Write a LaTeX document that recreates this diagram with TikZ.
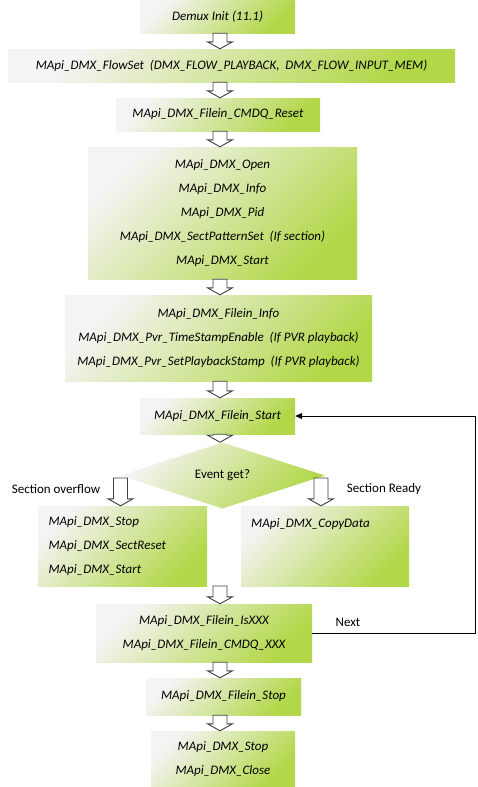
\documentclass[tikz,border=0pt]{standalone}
\usepackage{fontspec}
\setmainfont{Carlito}
\usetikzlibrary{shapes.geometric,arrows.meta,calc}
\definecolor{gl}{RGB}{244,244,244}
\definecolor{gg}{RGB}{178,215,72}
\definecolor{arr}{RGB}{64,64,64}
\newcommand{\blkarrow}[2]{\draw[barrow] let \p1=(#1), \p2=(#2) in
  (\x1-7pt,\y1) -- (\x1-7pt,\y2+7pt) -- (\x1-12.5pt,\y2+7pt) -- (\x1,\y2) --
  (\x1+12.5pt,\y2+7pt) -- (\x1+7pt,\y2+7pt) -- (\x1+7pt,\y1) -- cycle;}
\begin{document}
\begin{tikzpicture}[x=1pt,y=-1pt,
  box/.style={rectangle, inner sep=0pt, top color=gl, bottom color=gg, shading angle=45,
    font=\fontsize{13}{24}\selectfont\itshape, align=center},
  barrow/.style={draw=arr, fill=white, line width=0.9pt, line join=miter},
  lbl/.style={font=\fontsize{13}{15}\selectfont, inner sep=0pt},
  itxt/.style={font=\fontsize{13}{15}\selectfont\itshape, inner sep=0pt}]
\useasboundingbox (0,0) rectangle (478,787);
\coordinate (ax) at (220,0);
% boxes
\node[box, minimum width=155pt, minimum height=33pt] (b1) at (217.5,16.5) {Demux Init (11.1)};
\node[box, minimum width=447pt, minimum height=33pt] (b2) at (231.5,65.5)
  {MApi\_DMX\_FlowSet\ \ (DMX\_FLOW\_PLAYBACK,\ \ DMX\_FLOW\_INPUT\_MEM)};
\node[box, minimum width=204pt, minimum height=33pt] (b3) at (218,114.5) {MApi\_DMX\_Filein\_CMDQ\_Reset};
\node[box, minimum width=269pt, minimum height=132pt] (b4) at (222.5,213)
  {MApi\_DMX\_Open\\MApi\_DMX\_Info\\MApi\_DMX\_Pid\\MApi\_DMX\_SectPatternSet\ \ (If section)\\MApi\_DMX\_Start};
\node[box, minimum width=307pt, minimum height=86pt] (b5) at (218.5,338)
  {MApi\_DMX\_Filein\_Info\\MApi\_DMX\_Pvr\_TimeStampEnable\ \ (If PVR playback)\\MApi\_DMX\_Pvr\_SetPlaybackStamp\ \ (If PVR playback)};
\node[box, minimum width=155pt, minimum height=36pt] (b6) at (217.5,416) {MApi\_DMX\_Filein\_Start};
\node[diamond, inner sep=0pt, minimum width=205pt, minimum height=47pt, top color=gl, bottom color=gg,
  shading angle=45, font=\fontsize{13}{15}\selectfont] (d) at (222.5,475.5) {Event get?};
\node[box, align=left, text width=148pt, minimum width=169pt, minimum height=80pt] (b7) at (122.5,546)
  {MApi\_DMX\_Stop\\MApi\_DMX\_SectReset\\MApi\_DMX\_Start};
\node[box, minimum width=168pt, minimum height=80pt] (b8) at (325,546) {};
\node[itxt, anchor=west] (t8) at (251,524) {MApi\_DMX\_CopyData};
\node[box, minimum width=216pt, minimum height=58pt] (b9) at (204,633)
  {MApi\_DMX\_Filein\_IsXXX\\MApi\_DMX\_Filein\_CMDQ\_XXX};
\node[box, minimum width=155pt, minimum height=37pt] (b10) at (223.5,696.5) {MApi\_DMX\_Filein\_Stop};
\node[box, minimum width=144pt, minimum height=56pt] (b11) at (223,759) {MApi\_DMX\_Stop\\MApi\_DMX\_Close};
% labels
\node[lbl] (lo) at (56,489) {Section overflow};
\node[lbl] (lr) at (384,489) {Section Ready};
\node[lbl] (ln) at (348,622) {Next};
% block arrows
\blkarrow{b1.south -| ax}{b2.north -| ax}
\blkarrow{b2.south -| ax}{b3.north -| ax}
\blkarrow{b3.south -| ax}{b4.north -| ax}
\blkarrow{b4.south -| ax}{b5.north -| ax}
\blkarrow{b5.south -| ax}{b6.north -| ax}
\blkarrow{b6.south -| ax}{d.north -| ax}
\coordinate (dl) at (120.5,478);
\coordinate (dr) at (321,478);
\blkarrow{dl}{b7.north -| dl}
\blkarrow{dr}{b8.north -| dr}
\coordinate (m) at (220,586);
\blkarrow{m}{b9.north -| ax}
\blkarrow{b9.south -| ax}{b10.north -| ax}
\blkarrow{b10.south -| ax}{b11.north -| ax}
% feedback
\coordinate (fb) at (475,0);
\draw[line width=0.9pt, -{Triangle[length=7pt,width=6pt]}] (b9.east) -- (b9.east -| fb) -- (b6.east -| fb) -- (b6.east);
\end{tikzpicture}
\end{document}
